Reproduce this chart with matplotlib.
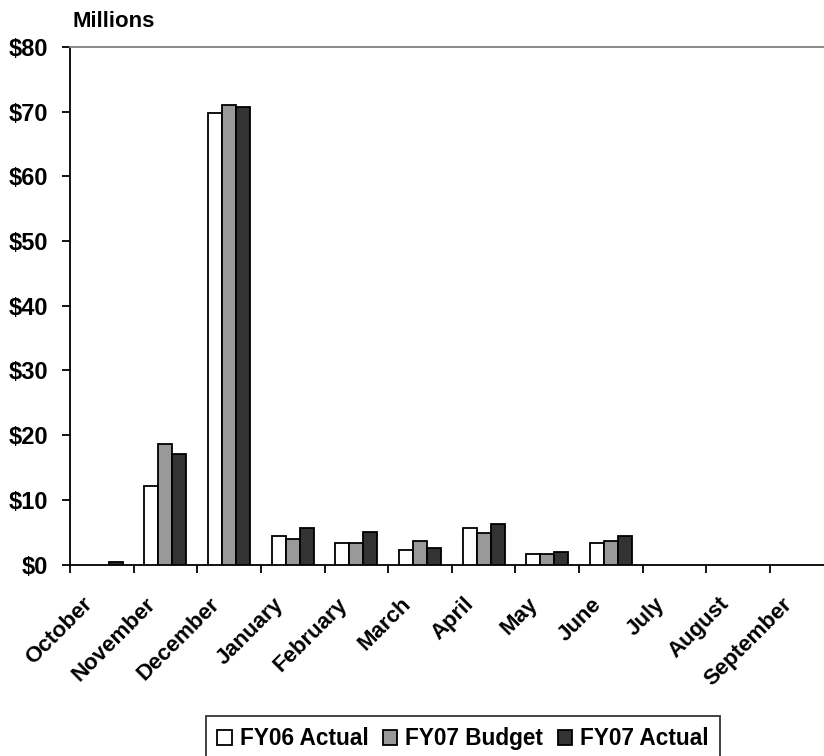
import numpy as np
import matplotlib.pyplot as plt
from matplotlib.ticker import FuncFormatter

plt.rcParams["font.family"] = ["Liberation Sans", "DejaVu Sans"]
plt.rcParams["font.weight"] = "bold"

# Monthly values in millions of dollars
months = ["October", "November", "December", "January", "February", "March",
          "April", "May", "June", "July", "August", "September"]
fy06_actual = [0.0, 12.2, 69.8, 4.4, 3.4, 2.2, 5.6, 1.6, 3.4, 0, 0, 0]
fy07_budget = [0.0, 18.6, 71.0, 4.0, 3.4, 3.7, 4.9, 1.6, 3.7, 0, 0, 0]
fy07_actual = [0.4, 17.1, 70.7, 5.6, 5.0, 2.5, 6.2, 1.9, 4.4, 0, 0, 0]

series = [("FY06 Actual", fy06_actual, "#ffffff"),
          ("FY07 Budget", fy07_budget, "#999999"),
          ("FY07 Actual", fy07_actual, "#333333")]

fig = plt.figure(figsize=(8.24, 7.56), dpi=100)
ax = fig.add_axes([0.085, 0.2533, 0.9267, 0.6845])

x = np.arange(len(months))
width = 0.22
for i, (name, vals, color) in enumerate(series):
    vals = np.array(vals, dtype=float)
    mask = vals > 0
    ax.bar(x[mask] + (i - 1) * width, vals[mask], width, color=color,
           edgecolor="black", linewidth=1.3, label=name, zorder=3)

ax.set_xlim(-0.5, len(months) - 0.5)
ax.set_ylim(0, 80)
ax.set_yticks(np.arange(0, 81, 10))
ax.yaxis.set_major_formatter(FuncFormatter(lambda v, p: f"${v:.0f}"))

# category boundaries get the tick marks, labels sit just left of centre
ax.set_xticks(np.arange(len(months) + 1) - 0.5)
ax.set_xticklabels([])
ax.set_xticks(x - 0.315, minor=True)
ax.set_xticklabels(months, minor=True, rotation=45, ha="right",
                   va="top", rotation_mode="anchor", fontsize=16,
                   fontweight="bold")
ax.tick_params(axis="x", which="minor", length=0, pad=21)
ax.tick_params(axis="x", which="major", length=5.8, width=1.3, direction="out")
ax.tick_params(axis="y", length=5.8, width=1.3, direction="out",
               labelsize=17, pad=10)

ax.spines["right"].set_visible(False)
ax.spines["top"].set_color("#808080")
ax.spines["top"].set_linewidth(1.3)
ax.spines["left"].set_linewidth(1.3)
ax.spines["bottom"].set_linewidth(1.3)

fig.text(0.0874, 0.9643, "Millions", fontsize=16, fontweight="bold",
         ha="left", va="baseline")

leg = fig.legend(loc="upper center", bbox_to_anchor=(0.562, 0.053), ncol=3,
                 frameon=True, fancybox=False, fontsize=16.3,
                 handlelength=0.63, handleheight=0.63, handletextpad=0.35,
                 columnspacing=0.65, borderpad=0.5, borderaxespad=0)
leg.get_frame().set_edgecolor("black")
leg.get_frame().set_linewidth(1.3)

fig.savefig("out.png", dpi=100)
